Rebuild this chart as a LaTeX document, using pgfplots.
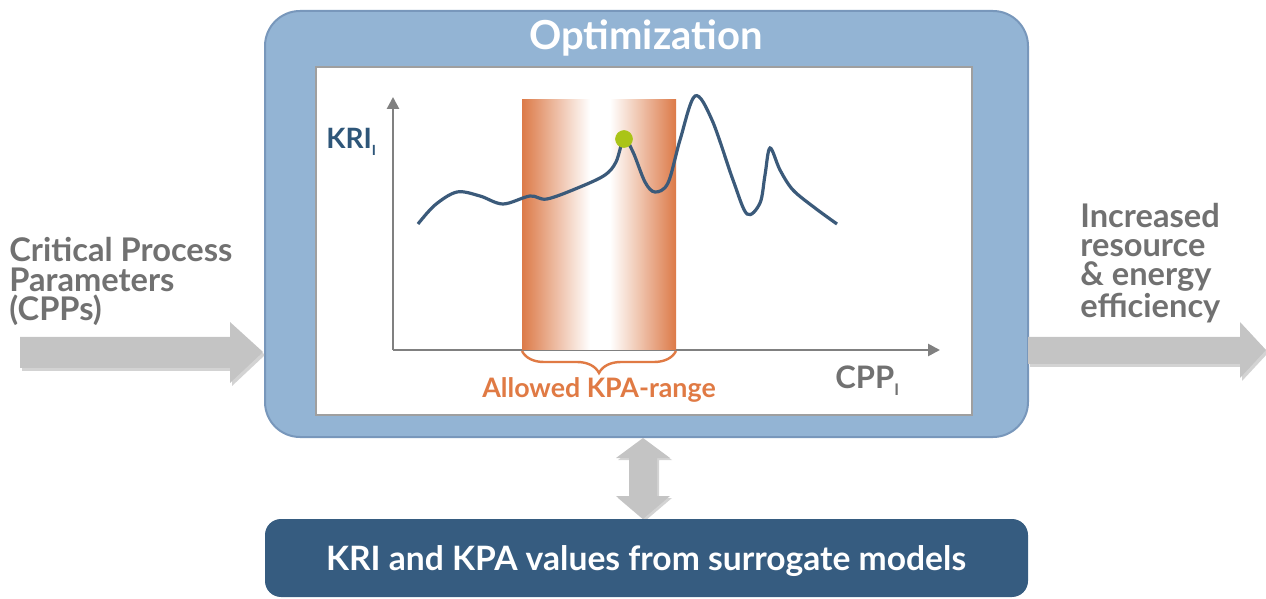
\documentclass[border=0pt]{standalone}
\usepackage{fontspec}
\setmainfont{Lato}
\usepackage{pgfplots}
\pgfplotsset{compat=1.18}
\usetikzlibrary{arrows.meta,decorations.pathreplacing}
\definecolor{boxblue}{HTML}{93B4D4}
\definecolor{boxedge}{HTML}{7897BB}
\definecolor{darkbox}{HTML}{365C80}
\definecolor{txtgray}{HTML}{717171}
\definecolor{arrgray}{HTML}{C4C4C4}
\definecolor{arrshadow}{HTML}{A8A8A8}
\definecolor{orng}{HTML}{E07A44}
\definecolor{bandorng}{HTML}{DC7A48}
\definecolor{curvec}{HTML}{3B5A7A}
\definecolor{kri}{HTML}{2E5679}
\definecolor{greendot}{HTML}{AAC417}
\definecolor{axgray}{HTML}{808080}
\begin{document}
\begin{tikzpicture}[x=0.5pt,y=-0.5pt, every node/.style={inner sep=0pt}]
\useasboundingbox (0,0) rectangle (1266,599);
% outer optimization box
\draw[boxedge, fill=boxblue, line width=1pt, rounded corners=17.5pt] (265,11) rectangle (1028,437);
\draw[fill=white, draw=gray!75, line width=0.8pt] (316,67) rectangle (972,415);
\node[white, anchor=base, font=\bfseries\fontsize{20}{22}\selectfont] at (646,50) {Optimization};
% side arrows (with soft shadow)
\fill[arrshadow, opacity=0.5] (22,340) -- (232,340) -- (232,325) -- (265,355) -- (232,386) -- (232,371) -- (22,371) -- cycle;
\fill[arrgray] (20,337) -- (230,337) -- (230,322) -- (263,352) -- (230,383) -- (230,368) -- (20,368) -- cycle;
\fill[arrshadow, opacity=0.5] (1030,340) -- (1242,340) -- (1242,325) -- (1268,353) -- (1242,381) -- (1242,367) -- (1030,367) -- cycle;
\fill[arrgray] (1028,337) -- (1240,337) -- (1240,322) -- (1266,350) -- (1240,378) -- (1240,364) -- (1028,364) -- cycle;
% double arrow
\fill[arrshadow, opacity=0.5] (645,440) -- (672,460) -- (659,460) -- (659,498) -- (672,498) -- (645,521) -- (618,498) -- (631,498) -- (631,460) -- (618,460) -- cycle;
\fill[arrgray] (643,438) -- (670,458) -- (657,458) -- (657,496) -- (670,496) -- (643,519) -- (616,496) -- (629,496) -- (629,458) -- (616,458) -- cycle;
% bottom box
\fill[darkbox, rounded corners=8pt] (265,519) rectangle (1028,597);
\node[white, anchor=base, font=\bfseries\fontsize{16.8}{18}\selectfont] at (646,570) {KRI and KPA values from surrogate models};
% side texts (anchor = baseline of last line)
\node[txtgray, anchor=base west, align=left, font=\bfseries\fontsize{16.3}{14.8}\selectfont] at (9,321) {Critical Process\\Parameters\\(CPPs)};
\node[txtgray, anchor=base west, align=left, font=\bfseries\fontsize{16.3}{14.7}\selectfont] at (1080,318) {Increased\\resource\\\& energy\\efficiency};
% chart
\begin{axis}[at={(196.5pt,-175pt)}, anchor=south west, scale only axis,
  width=273.5pt, height=126.5pt, xmin=0, xmax=547, ymin=0, ymax=253,
  axis lines=left, ticks=none, clip=false,
  axis line style={axgray, line width=1.3pt, -{Triangle[length=6pt,width=6pt]}}]
\addplot[draw=none, left color=bandorng, right color=white] coordinates {(129,250) (197,250)} \closedcycle;
\addplot[draw=none, fill=white] coordinates {(197,250) (217,250)} \closedcycle;
\addplot[draw=none, left color=white, right color=bandorng] coordinates {(217,250) (283,250)} \closedcycle;
\addplot[curvec, line width=1.6pt, smooth, tension=0.55] coordinates {
(25,126) (42,145) (64,158) (87,154) (110,146) (137,154) (154,151) (187,163)
(212,175) (223,188) (231,211) (240,198) (252,168) (262,158) (275,167)
(287,210) (302,254) (319,230) (340,170) (354,136) (367,147) (372,175)
(377,202) (387,180) (400,160) (422,142) (444,126)};
\addplot[only marks, mark=*, mark size=4.2pt, mark options={fill=greendot, draw=greendot}] coordinates {(231,211)};
\draw[orng, line width=1.2pt, decorate, decoration={brace, mirror, amplitude=11pt}] (axis cs:129,-1) -- (axis cs:283,-1);
\end{axis}
\node[kri, anchor=base west, font=\bfseries\fontsize{14}{16}\selectfont] at (326,149) {KRI\raisebox{-0.45ex}{\fontsize{7}{8}\selectfont I}};
\node[txtgray, anchor=base west, font=\bfseries\fontsize{15.5}{17}\selectfont] at (835,388) {CPP\raisebox{-0.5ex}{\fontsize{8}{9}\selectfont I}};
\node[orng, anchor=base, font=\bfseries\fontsize{13.4}{15}\selectfont] at (599,398) {Allowed KPA-range};
\end{tikzpicture}
\end{document}
